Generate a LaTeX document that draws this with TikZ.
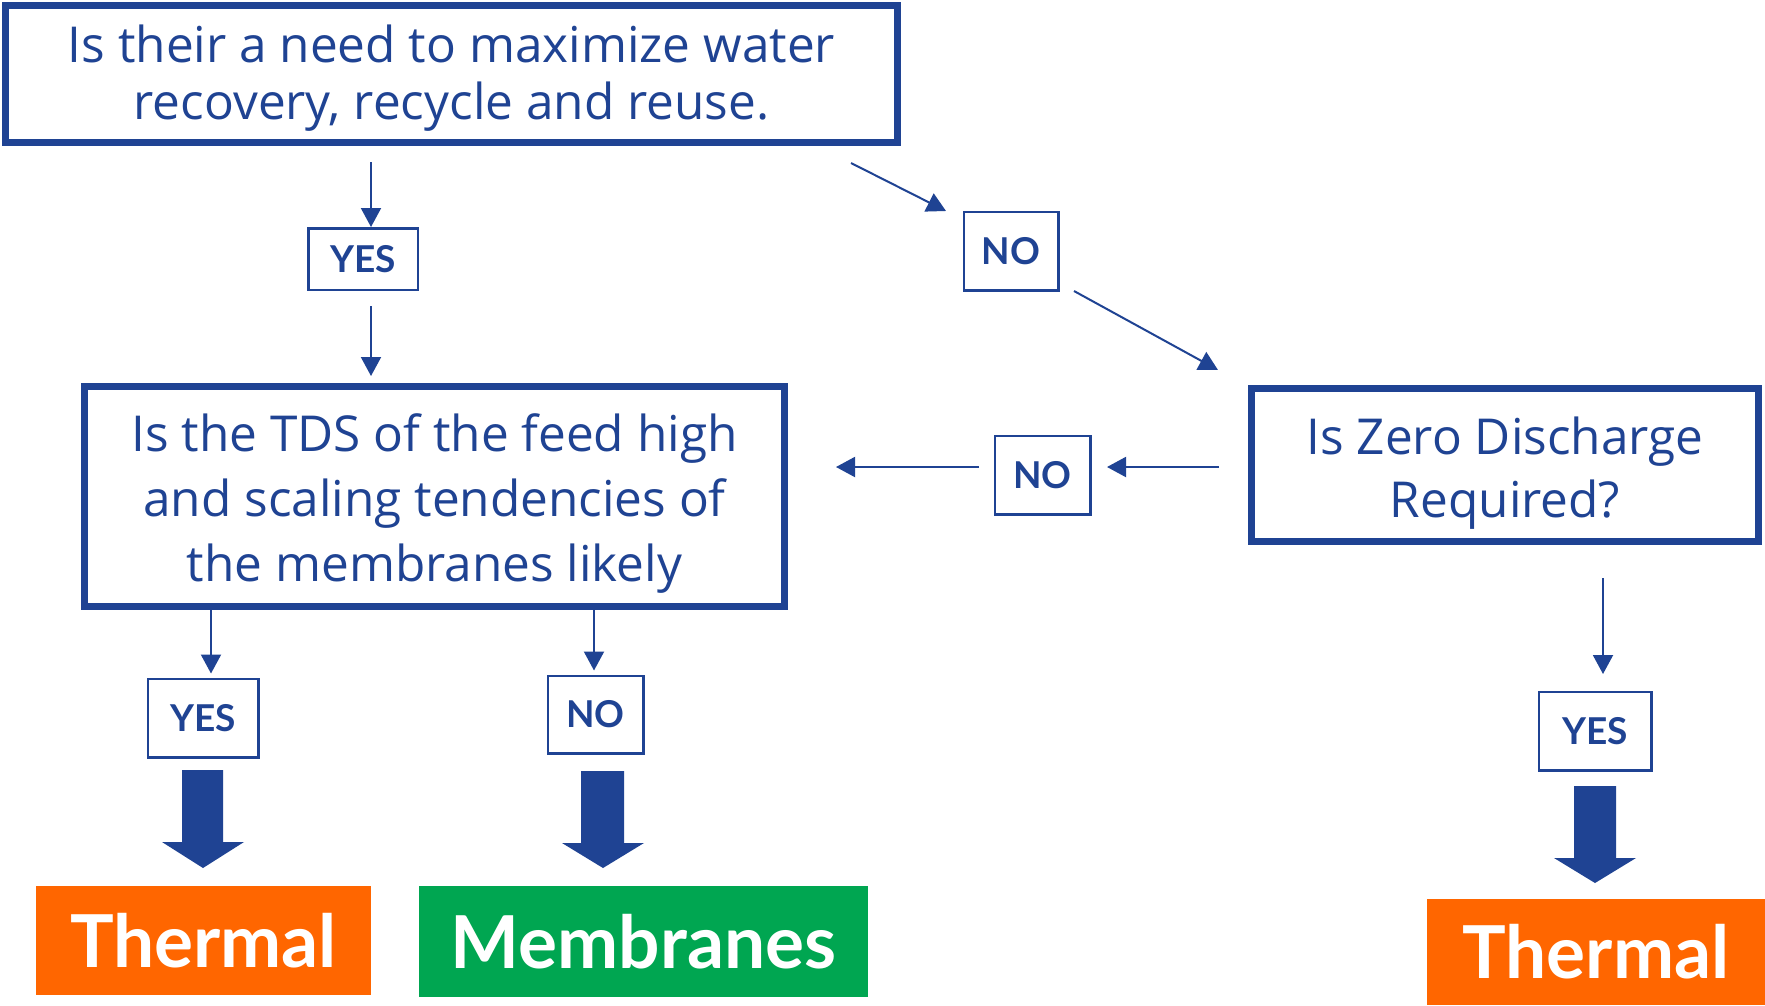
\documentclass[tikz,border=0pt]{standalone}
\usepackage{fontspec}
\setmainfont{Open Sans}
\newfontfamily\lato{Lato}
\usetikzlibrary{arrows.meta,calc}
\definecolor{gblue}{RGB}{31,67,147}
\definecolor{gorange}{RGB}{255,102,0}
\definecolor{ggreen}{RGB}{0,166,81}
\begin{document}
\begin{tikzpicture}[x=1pt,y=-1pt,
  qbox/.style={draw=gblue,line width=7pt,inner sep=0pt,align=center,text=gblue},
  lbox/.style={draw=gblue,line width=2.5pt,inner sep=0pt,text=gblue,font=\lato\bfseries\fontsize{37}{40}\selectfont},
  obox/.style={inner sep=0pt,text=white,font=\lato\bfseries\fontsize{73}{80}\selectfont},
  thinarr/.style={draw=gblue,line width=2pt,-{Triangle[length=19pt,width=20pt]}},
  bigarr/.style={fill=gblue}
]
\useasboundingbox (0,0) rectangle (1765,1005);
\fill[white] (0,0) rectangle (1765,1005);

% question boxes
\node[qbox,minimum width=892pt,minimum height=137pt,font=\fontsize{49.5}{57}\selectfont] (q1) at (451.5,74)
  {\parbox{880pt}{\vspace*{8pt}\centering Is their a need to maximize water\\recovery, recycle and reuse.}};
\node[qbox,minimum width=700pt,minimum height=220pt,font=\fontsize{49.5}{65}\selectfont] (q2) at (434.5,496.5)
  {\parbox{690pt}{\vspace*{14pt}\centering Is the TDS of the feed high\\and scaling tendencies of\\the membranes likely}};
\node[qbox,minimum width=507pt,minimum height=153pt,font=\fontsize{49.5}{63}\selectfont] (q3) at (1505,465)
  {\parbox{500pt}{\vspace*{16pt}\centering Is Zero Discharge\\Required?}};

% label boxes
\node[lbox,minimum width=109.5pt,minimum height=61.5pt] (yes1) at (363,259) {\raisebox{-3pt}{YES}};
\node[lbox,minimum width=94.5pt,minimum height=78.5pt] (no1) at (1011,251) {NO};
\node[lbox,minimum width=95.5pt,minimum height=78.5pt] (no2) at (1042.5,475) {NO};
\node[lbox,minimum width=110.5pt,minimum height=78.5pt] (yes2) at (203,718) {YES};
\node[lbox,minimum width=95.5pt,minimum height=77.5pt] (no3) at (595.5,714.5) {NO};
\node[lbox,minimum width=112.5pt,minimum height=78.5pt] (yes3) at (1595,731) {YES};

% outcome boxes
\node[obox,fill=gorange,minimum width=335pt,minimum height=109pt] (th1) at (203.5,940.5) {Thermal};
\node[obox,fill=ggreen,minimum width=449pt,minimum height=111pt] (mem) at (643.5,941.5) {Membranes};
\node[obox,fill=gorange,minimum width=338pt,minimum height=106pt] (th2) at (1596,952) {Thermal};

% connector end points
\coordinate (a1s) at (371,162);
\coordinate (a2s) at (371,306);
\coordinate (a3s) at (851,163);
\coordinate (a3e) at (946,211);
\coordinate (a4s) at (1074,291);
\coordinate (a4e) at (1218,370);
\coordinate (a5s) at (1219,467);
\coordinate (a5e) at (1107,467);
\coordinate (a6s) at (979,467);
\coordinate (a6e) at (836,467);
\coordinate (a7s) at (211,608);
\coordinate (a8s) at (594,608);
\coordinate (a9s) at (1603,578);
\coordinate (a9e) at (1603,674);

\draw[thinarr] (a1s) -- (a1s |- yes1.north);
\draw[thinarr,shorten >=7pt] (a2s) -- (a2s |- q2.north);
\draw[thinarr] (a3s) -- (a3e);
\draw[thinarr] (a4s) -- (a4e);
\draw[thinarr] (a5s) -- (a5e);
\draw[thinarr] (a6s) -- (a6e);
\draw[thinarr,shorten >=4pt] (a7s) -- (a7s |- yes2.north);
\draw[thinarr,shorten >=4pt] (a8s) -- (a8s |- no3.north);
\draw[thinarr] (a9s) -- (a9e);

% big arrows
\fill[bigarr] (182,770) -- (223,770) -- (223,842) -- (244,842) -- (203,868) -- (162,842) -- (182,842) -- cycle;
\fill[bigarr] (581,771) -- (624,771) -- (624,843) -- (644,843) -- (603,868) -- (562,843) -- (581,843) -- cycle;
\fill[bigarr] (1574,786) -- (1616,786) -- (1616,858) -- (1636,858) -- (1595,883) -- (1554,858) -- (1574,858) -- cycle;
\end{tikzpicture}
\end{document}
